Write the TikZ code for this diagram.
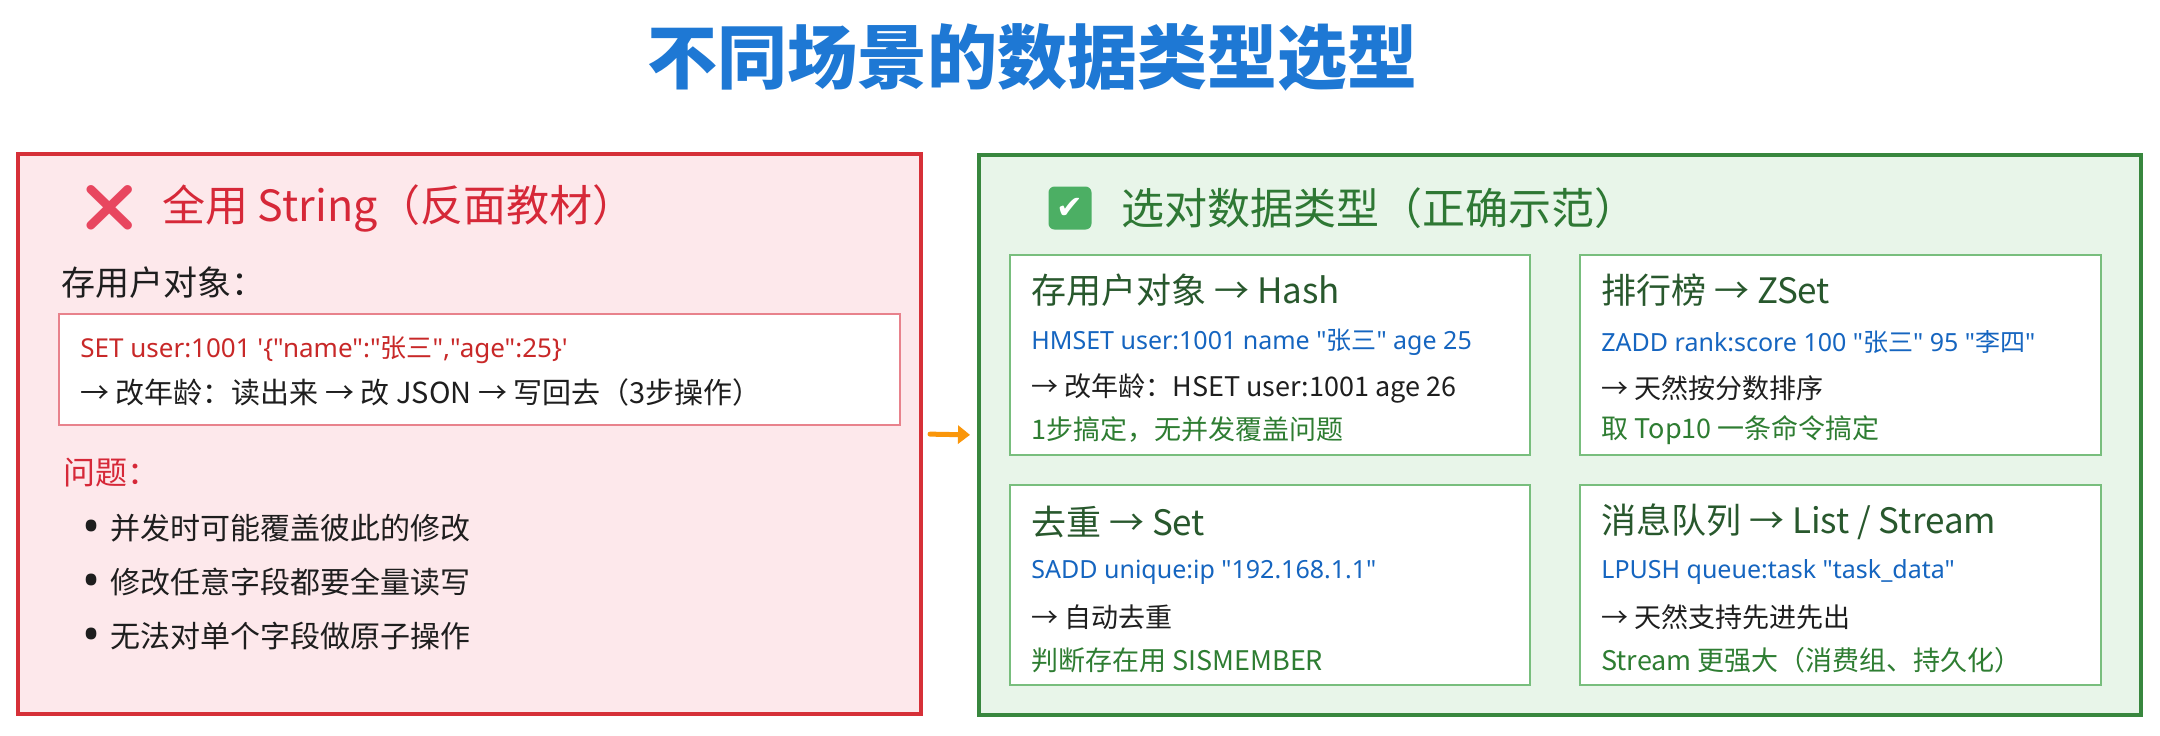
\documentclass[tikz,border=0pt]{standalone}
\usepackage{fontspec}
\setmainfont{Noto Sans CJK SC}[Ligatures=TeXOff]
\newfontfamily\cjkfont{Noto Sans CJK SC}[Ligatures=TeXOff]
\newfontfamily\codefont{Noto Sans}[Ligatures=TeXOff]
\newfontfamily\emojifont{Noto Emoji}
\newfontfamily\symfont{DejaVu Sans}
\usetikzlibrary{fit,arrows.meta}
\definecolor{titleblue}{RGB}{30,120,212}
\definecolor{panred}{RGB}{214,48,56}
\definecolor{panredbg}{RGB}{253,232,235}
\definecolor{headred}{RGB}{214,40,56}
\definecolor{codered}{RGB}{200,40,40}
\definecolor{boxred}{RGB}{232,130,140}
\definecolor{xred}{RGB}{232,70,95}
\definecolor{pangreen}{RGB}{56,135,62}
\definecolor{pangreenbg}{RGB}{232,245,233}
\definecolor{subgreen}{RGB}{120,190,125}
\definecolor{greenhead}{RGB}{46,120,52}
\definecolor{subhead}{RGB}{40,88,45}
\definecolor{codeblue}{RGB}{21,101,192}
\definecolor{taggreen}{RGB}{46,125,50}
\definecolor{darktext}{RGB}{30,30,30}
\definecolor{arroworange}{RGB}{250,150,10}
\definecolor{checkgreen}{RGB}{76,175,100}
\newcommand{\bulletdot}{\raisebox{-2.2pt}{\codefont\fontsize{24}{15}\selectfont •}}
\tikzset{
  txt/.style={anchor=west, inner sep=0pt, text=darktext},
  fs/.style={font=\fontsize{#1}{#1}\selectfont},
  panelL/.style={inner sep=0pt, draw=panred, fill=panredbg, line width=2pt},
  panelR/.style={inner sep=0pt, draw=pangreen, fill=pangreenbg, line width=2pt},
  codebox/.style={inner sep=0pt, draw=boxred, fill=white, line width=1pt},
  subbox/.style={inner sep=0pt, draw=subgreen, fill=white, line width=1pt},
  subhd/.style={txt, fs=17.5, text=subhead},
  codeln/.style={txt, font=\codefont\fontsize{12.5}{12.5}\selectfont, text=codeblue},
  darkln/.style={txt, fs=13.5},
  tagln/.style={txt, fs=13.5, text=taggreen},
  bul/.style={txt, fs=15},
  flowarrow/.style={draw=arroworange, line width=2.5pt, line cap=round, -{Triangle[length=6pt,width=9pt]}, shorten <=3.5pt, shorten >=3.5pt}
}
\begin{document}
\begin{tikzpicture}[x=0.5pt,y=-0.5pt]
\useasboundingbox (0,0) rectangle (2160,735);
\fill[white] (0,0) rectangle (2160,735);

% title
\node[inner sep=0pt, text=titleblue, font=\bfseries\fontsize{35}{40}\selectfont] (title) at (1032,57) {不同场景的数据类型选型};

% panels
\node[panelL, fit={(18,154) (921,714)}] (L) {};
\node[panelR, fit={(979,155) (2141,715)}] (R) {};
\draw[flowarrow] (L.east) -- (R.west);

% left panel
\node[inner sep=0pt, text=xred, font=\emojifont\fontsize{23}{23}\selectfont] (lx) at (110,208) {❌};
\node[txt, fs=21.5, text=headred] (lt) at (162,208) {全用 String（反面教材）};
\node[txt, fs=17] (ls) at (61,283) {存用户对象：};
\node[codebox, fit={(59,314) (900,425)}] (lbox) {};
\node[txt, font=\codefont\fontsize{13}{13}\selectfont, text=codered] (lc1) at (80,350) {SET user:1001 '\{"name":"{\cjkfont 张三}","age":25\}'};
\node[txt, fs=14.5] (lc2) at (80,392) {→ 改年龄：读出来 → 改 JSON → 写回去（3步操作）};
\node[txt, fs=16, text=headred] (lq) at (63,473) {问题：};
\node[bul] (lb1) at (82,529) {\bulletdot\hspace{5pt}并发时可能覆盖彼此的修改};
\node[bul] (lb2) at (82,583) {\bulletdot\hspace{5pt}修改任意字段都要全量读写};
\node[bul] (lb3) at (82,637) {\bulletdot\hspace{5pt}无法对单个字段做原子操作};

% right panel
\node[fill=checkgreen, rounded corners=3pt, minimum size=21.5pt, inner sep=0pt, text=white, font=\symfont\fontsize{16}{16}\selectfont] (rx) at (1070,208) {✔};
\node[txt, fs=21.5, text=greenhead] (rt) at (1121,208) {选对数据类型（正确示范）};

\node[subbox, fit={(1010,255) (1530,455)}] (b1) {};
\node[subbox, fit={(1580,255) (2101,455)}] (b2) {};
\node[subbox, fit={(1010,485) (1530,685)}] (b3) {};
\node[subbox, fit={(1580,485) (2101,685)}] (b4) {};

% box 1
\node[subhd] (h1) at (1031,290) {存用户对象 → Hash};
\node[codeln] (c1) at (1031,342) {HMSET user:1001 name "{\cjkfont 张三}" age 25};
\node[darkln] (d1) at (1031,388) {→ 改年龄：HSET user:1001 age 26};
\node[tagln] (g1) at (1031,430) {1步搞定，无并发覆盖问题};

% box 2
\node[subhd] (h2) at (1601,290) {排行榜 → ZSet};
\node[codeln] (c2) at (1601,342) {ZADD rank:score 100 "{\cjkfont 张三}" 95 "{\cjkfont 李四}"};
\node[darkln] (d2) at (1601,388) {→ 天然按分数排序};
\node[tagln] (g2) at (1601,430) {取 Top10 一条命令搞定};

% box 3
\node[subhd] (h3) at (1031,522) {去重 → Set};
\node[codeln] (c3) at (1031,572) {SADD unique:ip "192.168.1.1"};
\node[darkln] (d3) at (1031,617) {→ 自动去重};
\node[tagln] (g3) at (1031,660) {判断存在用 SISMEMBER};

% box 4
\node[subhd] (h4) at (1601,522) {消息队列 → List / Stream};
\node[codeln] (c4) at (1601,572) {LPUSH queue:task "task\_data"};
\node[darkln] (d4) at (1601,617) {→ 天然支持先进先出};
\node[tagln] (g4) at (1601,660) {Stream 更强大（消费组、持久化）};
\end{tikzpicture}
\end{document}
